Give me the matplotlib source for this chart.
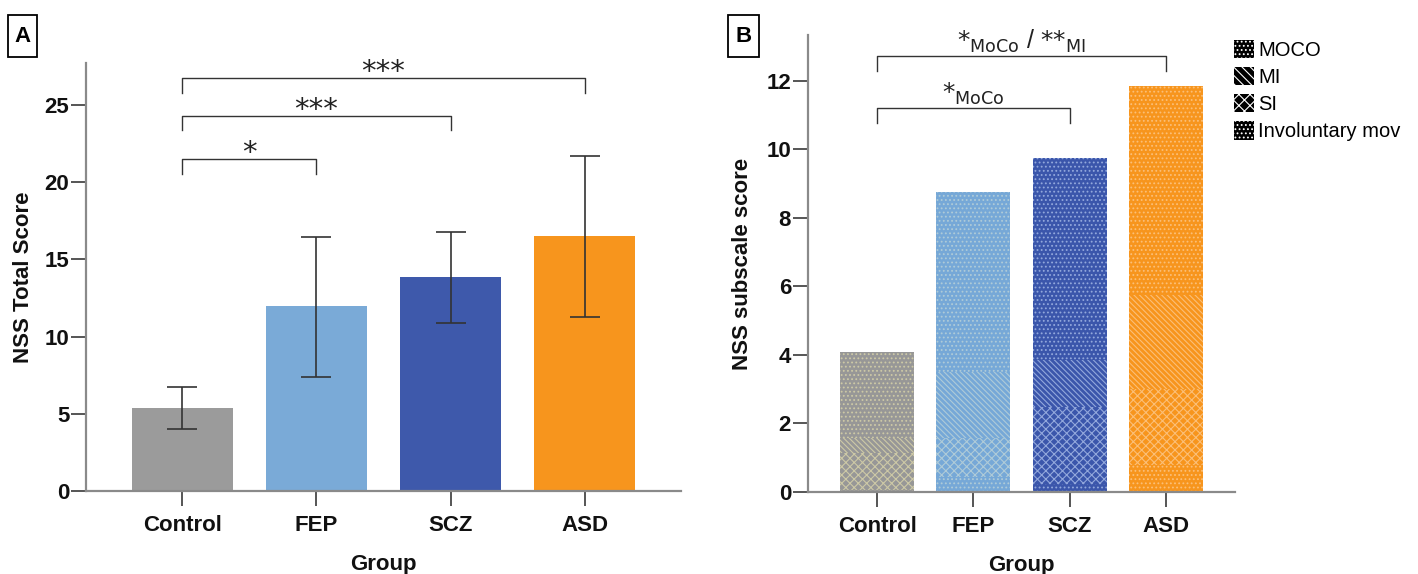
import matplotlib
matplotlib.use("Agg")
import matplotlib.pyplot as plt
from matplotlib.patches import Patch, Rectangle
import numpy as np

plt.rcParams['font.family'] = ['Liberation Sans', 'DejaVu Sans']
plt.rcParams['mathtext.fontset'] = 'dejavusans'
plt.rcParams['hatch.linewidth'] = 0.8

# ---------------- data ----------------
groups = ['Control', 'FEP', 'SCZ', 'ASD']
total_mean = [5.4, 11.95, 13.85, 16.5]
total_err_low = [4.0, 7.4, 10.9, 11.3]
total_err_high = [6.75, 16.45, 16.75, 21.7]
a_yticks = [0, 5, 10, 15, 20, 25]

# subscale scores (stacked bottom -> top)
invol_mov = [0.06, 0.45, 0.24, 0.80]
si_score = [1.08, 1.14, 2.23, 2.21]
mi_score = [0.44, 1.92, 1.39, 2.73]
moco_score = [2.50, 5.25, 5.89, 6.10]
b_yticks = [0, 2, 4, 6, 8, 10, 12]

bar_colors = ['#9b9b9b', '#7aaad7', '#3e59ab', '#f7951d']
b_colors = ['#979797', '#76a8d7', '#3b56ab', '#f7951d']
b_hatch_colors = ['#cdc9a6', '#afcbd8', '#93a8dc', '#fbbf78']

# significance brackets: (from, to, height, label)
a_sig = [(0, 1, 21.5, '*'), (0, 2, 24.3, '***'), (0, 3, 26.75, '***')]
b_sig = [(0, 2, 11.2, r'${*}_{\mathrm{MoCo}}$'),
         (0, 3, 12.72, r'${*}_{\mathrm{MoCo}}$ / ${*}{*}_{\mathrm{MI}}$')]

legend_labels = ['MOCO', 'MI', 'SI', 'Involuntary mov']
legend_hatches = ['....', '\\\\\\\\', 'xxx', '....']

# ---------------- figure ----------------
W, H = 1418, 574
fig = plt.figure(figsize=(W / 100, H / 100), dpi=100)

axA = fig.add_axes([86 / W, 1 - 491 / H, (681 - 86) / W, (491 - 62.7) / H])
axB = fig.add_axes([807.7 / W, 1 - 492 / H, (1235 - 807.7) / W, (492 - 35) / H])

x = np.arange(len(groups))
spine_col = '#8a8a8a'
tick_col = '#555555'


def style_axes(ax):
    for s in ['top', 'right']:
        ax.spines[s].set_visible(False)
    for s in ['left', 'bottom']:
        ax.spines[s].set_color(spine_col)
        ax.spines[s].set_linewidth(1.6)
    ax.tick_params(axis='both', length=11, width=1.4, color=tick_col,
                   labelsize=16, labelcolor='#111111')
    ax.tick_params(axis='y', pad=1)
    ax.tick_params(axis='x', pad=6)
    ax.set_xticks(x)
    ax.set_xticklabels(groups, fontweight='bold')
    ax.set_xlabel('Group', fontsize=16, fontweight='bold', labelpad=13,
                  color='#111111')


def bracket(ax, x0, x1, y, drop, lw=1.0):
    ax.plot([x0, x0, x1, x1], [y - drop, y, y, y - drop], color='#333333',
            lw=lw, solid_joinstyle='round')


# ---------------- panel A ----------------
yerr = [np.array(total_mean) - np.array(total_err_low),
        np.array(total_err_high) - np.array(total_mean)]
axA.bar(x, total_mean, width=0.75, color=bar_colors, linewidth=0, zorder=2)
axA.errorbar(x, total_mean, yerr=yerr, fmt='none', ecolor='#333333',
             elinewidth=1.2, capsize=11, capthick=1.2, zorder=3)
axA.set_xlim(-0.72, 3.72)
axA.set_ylim(0, 27.74)
axA.set_yticks(a_yticks)
style_axes(axA)
for t in axA.get_yticklabels():
    t.set_fontweight('bold')
axA.set_ylabel('NSS Total Score', fontsize=16, fontweight='bold', color='#111111')
axA.yaxis.set_label_coords(-0.088, 0.5)
for x0, x1, y, lab in a_sig:
    bracket(axA, x0, x1, y, 0.95)
    axA.annotate(lab, xy=((x0 + x1) / 2, y), xytext=(0, -1.5),
                 textcoords='offset points', ha='center', va='baseline',
                 fontsize=21, family='DejaVu Sans', color='#222222')

# ---------------- panel B ----------------
bottom = np.zeros(len(groups))
layers = [(invol_mov, '....'), (si_score, 'xxxx'), (mi_score, '\\\\\\\\\\\\'),
          (moco_score, '....')]
for vals, hatch in layers:
    for i in range(len(groups)):
        axB.bar(x[i], vals[i], bottom=bottom[i], width=0.77,
                color=b_colors[i], edgecolor=b_hatch_colors[i],
                hatch=hatch, linewidth=0, zorder=2)
    bottom = bottom + np.array(vals)
axB.set_xlim(-0.724, 3.72)
axB.set_ylim(0, 13.34)
axB.set_yticks(b_yticks)
style_axes(axB)
for t in axB.get_yticklabels():
    t.set_fontweight('bold')
axB.set_ylabel('NSS subscale score', fontsize=16, fontweight='bold',
               color='#111111')
axB.yaxis.set_label_coords(-0.128, 0.5)
b_label_x = [1.0, 1.5]
for (x0, x1, y, lab), lx in zip(b_sig, b_label_x):
    bracket(axB, x0, x1, y, 0.42)
    axB.annotate(lab, xy=(lx, y), xytext=(0, 1),
                 textcoords='offset points', ha='center', va='bottom',
                 fontsize=18, color='#222222')

handles = [Patch(facecolor='black', edgecolor='white', hatch=h, linewidth=0)
           for h in legend_hatches]
fig.legend(handles, legend_labels, loc='upper left',
           bbox_to_anchor=(1234 / W, 1 - 40 / H), frameon=False,
           fontsize=14.5, handlelength=1.0, handleheight=1.0,
           handletextpad=0.2, labelspacing=0.36, borderpad=0,
           borderaxespad=0)

# ---------------- panel letters ----------------
for lx0, lx1, letter in [(8, 37, 'A'), (728, 759, 'B')]:
    fig.add_artist(Rectangle((lx0 / W, 1 - 57 / H), (lx1 - lx0) / W, 42 / H,
                             transform=fig.transFigure, fill=False,
                             edgecolor='black', linewidth=1.3))
    fig.text((lx0 + lx1) / 2 / W, 1 - 36 / H, letter, ha='center',
             va='center', fontsize=16, fontweight='bold')

fig.savefig('out.png', dpi=100, facecolor='white')
